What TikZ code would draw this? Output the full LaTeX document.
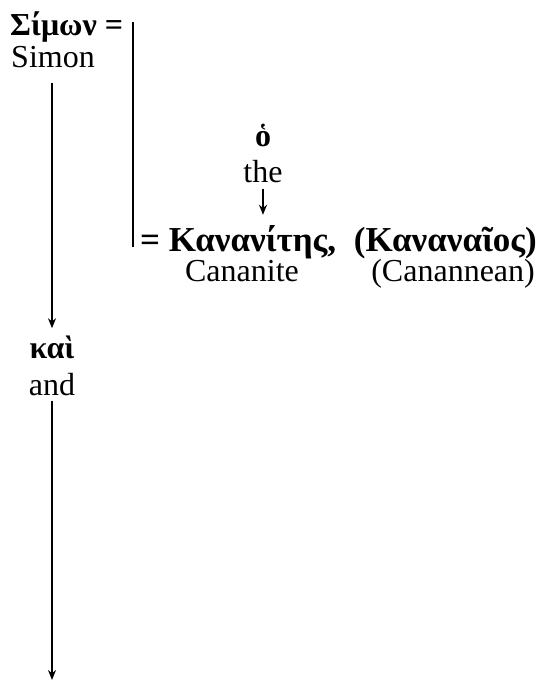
\documentclass[tikz,border=0pt]{standalone}
\usepackage{fontspec}
\setmainfont{Liberation Serif}
\usetikzlibrary{arrows.meta}
\begin{document}
\begin{tikzpicture}[x=1pt,y=-1pt,
    every node/.style={inner sep=0pt,font=\fontsize{32}{36}\selectfont},
    greek/.style={font=\fontsize{32}{36}\selectfont\bfseries},
    bigGreek/.style={font=\fontsize{35}{39}\selectfont\bfseries},
    arr/.style={line width=1.7pt,-{Stealth[length=10pt,width=8pt]}},
    bar/.style={line width=1.7pt}]
    \useasboundingbox (0,0) rectangle (543,680);
    %% Simon
    \node[greek,anchor=base west] (simonGr) at (10,35) {Σίμων =};
    \node[anchor=base] (simonEn) at (53,67) {Simon};
    %% and
    \node[greek,anchor=base] (kaiGr) at (52,358) {καὶ};
    \node[anchor=base] (kaiEn) at (52,395) {and};
    \coordinate (bottom) at (52,680);
    %% the
    \node[greek,anchor=base] (hoGr) at (263,146) {ὁ};
    \node[anchor=base] (hoEn) at (263,182) {the};
    %% Cananite
    \node[bigGreek,anchor=base west] (kanGr) at (140,251) {= Κανανίτης,};
    \node[bigGreek,anchor=base east] (kanaGr) at (537,251) {(Καναναῖος)};
    \node[anchor=base] (kanEn) at (242,281) {Cananite};
    \node[anchor=base east] (kanaEn) at (535,281) {(Canannean)};
    %% bar
    \coordinate (barTop) at (133,22);
    \coordinate (barBot) at (133,247);
    \draw[bar] (barTop) -- (barBot);
    %% arrows
    \draw[arr,shorten <=15pt,shorten >=7pt] (simonEn.south -| kaiGr) -- (kaiGr);
    \draw[arr,shorten <=5pt] (kaiEn.south) -- (bottom);
    \draw[arr,shorten <=6pt,shorten >=10pt] (hoEn.south) -- (hoEn.south |- kanGr.north);
\end{tikzpicture}
\end{document}
